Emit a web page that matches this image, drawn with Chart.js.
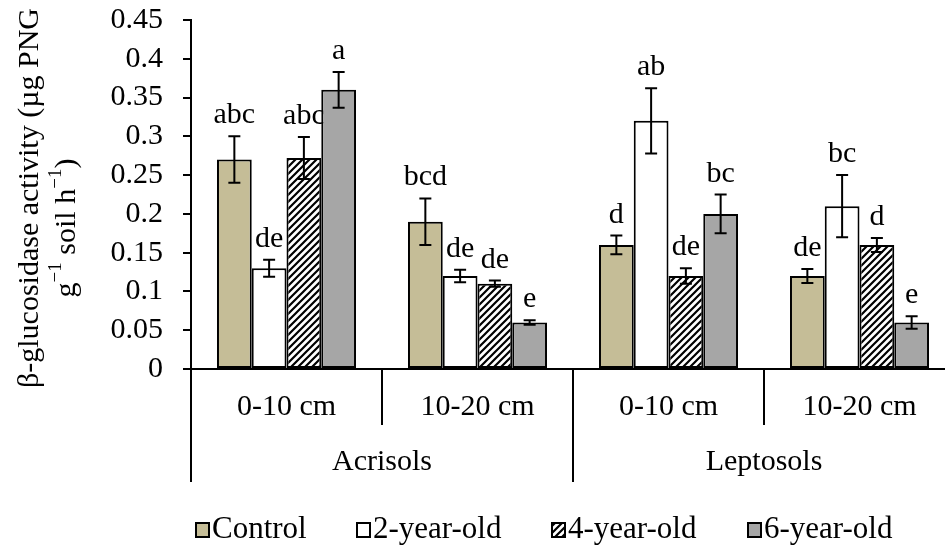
<!DOCTYPE html>
<html>
<head>
<meta charset="utf-8">
<script src="https://cdn.jsdelivr.net/npm/chart.js@4"></script>
<style>
  html, body { margin: 0; padding: 0; background: #fff; overflow: hidden; }
  #wrap { position: relative; width: 960px; height: 548px; }
</style>
</head>
<body>
<div id="wrap"><canvas id="chart"></canvas></div>
<script>
var depths = ['0-10 cm', '10-20 cm', '0-10 cm', '10-20 cm'];
var soils = ['Acrisols', 'Leptosols'];
var seriesNames = ['Control', '2-year-old', '4-year-old', '6-year-old'];

// mean activity per depth
var control = [0.27, 0.19, 0.16, 0.12];
var year2 = [0.13, 0.12, 0.32, 0.21];
var year4 = [0.272, 0.11, 0.12, 0.16];
var year6 = [0.36, 0.06, 0.20, 0.06];

// standard errors
var controlErr = [0.03, 0.03, 0.012, 0.009];
var year2Err = [0.011, 0.008, 0.042, 0.04];
var year4Err = [0.027, 0.004, 0.01, 0.009];
var year6Err = [0.023, 0.003, 0.025, 0.008];

// significance letters
var controlSig = ['abc', 'bcd', 'd', 'de'];
var year2Sig = ['de', 'de', 'ab', 'bc'];
var year4Sig = ['abc', 'de', 'de', 'd'];
var year6Sig = ['a', 'e', 'bc', 'e'];

var yMax = 0.45;
var yStep = 0.05;

var FONT = '"Liberation Serif", "Times New Roman", serif';

// diagonal hatch for the 4-year-old bars
function makeHatch() {
    var c = document.createElement('canvas');
    c.width = 7; c.height = 7;
    var g = c.getContext('2d');
    g.fillStyle = '#fff';
    g.fillRect(0, 0, 7, 7);
    g.strokeStyle = '#000';
    g.lineWidth = 2.2;
    g.beginPath();
    g.moveTo(-1, 8); g.lineTo(8, -1);
    g.moveTo(-4, 4); g.lineTo(4, -4);
    g.moveTo(3, 11); g.lineTo(11, 3);
    g.stroke();
    return document.getElementById('chart').getContext('2d').createPattern(c, 'repeat');
}
var hatch = makeHatch();

var fills = ['#c5bd97', '#ffffff', hatch, '#a6a6a6'];
var values = [control, year2, year4, year6];
var errs = [controlErr, year2Err, year4Err, year6Err];
var sigs = [controlSig, year2Sig, year4Sig, year6Sig];

var datasets = [];
for (var i = 0; i < values.length; i++) {
    datasets.push({
        label: seriesNames[i],
        data: values[i],
        backgroundColor: fills[i],
        borderColor: '#000',
        borderWidth: 2,
        borderSkipped: false,
        barPercentage: 1,
        categoryPercentage: 0.728
    });
}

// letters sit under the bars so later bars can cover them
var lettersPlugin = {
    id: 'letters',
    beforeDatasetsDraw: function(chart) {
        var ctx = chart.ctx, y = chart.scales.y;
        ctx.save();
        ctx.font = '30px ' + FONT;
        ctx.fillStyle = '#000';
        ctx.textAlign = 'center';
        ctx.textBaseline = 'alphabetic';
        chart.data.datasets.forEach(function(ds, i) {
            chart.getDatasetMeta(i).data.forEach(function(bar, j) {
                var top = y.getPixelForValue(values[i][j] + errs[i][j]);
                ctx.fillText(sigs[i][j], bar.x, top - 13);
            });
        });
        ctx.restore();
    }
};

var errorBars = {
    id: 'errorBars',
    afterDatasetsDraw: function(chart) {
        var ctx = chart.ctx, y = chart.scales.y;
        ctx.save();
        ctx.strokeStyle = '#000';
        ctx.lineWidth = 2;
        chart.data.datasets.forEach(function(ds, i) {
            chart.getDatasetMeta(i).data.forEach(function(bar, j) {
                var hi = y.getPixelForValue(values[i][j] + errs[i][j]);
                var lo = y.getPixelForValue(values[i][j] - errs[i][j]);
                ctx.beginPath();
                ctx.moveTo(bar.x, hi); ctx.lineTo(bar.x, lo);
                ctx.moveTo(bar.x - 6, hi); ctx.lineTo(bar.x + 6, hi);
                ctx.moveTo(bar.x - 6, lo); ctx.lineTo(bar.x + 6, lo);
                ctx.stroke();
            });
        });
        ctx.restore();
    }
};

function drawSupText(ctx, parts, cx, cy) {
    var total = 0;
    parts.forEach(function(p) {
        ctx.font = (p.sup ? '19px ' : '30px ') + FONT;
        p.w = ctx.measureText(p.t).width;
        total += p.w;
    });
    var x = cx - total / 2;
    parts.forEach(function(p) {
        ctx.font = (p.sup ? '19px ' : '30px ') + FONT;
        ctx.fillText(p.t, x, p.sup ? cy - 11 : cy);
        x += p.w;
    });
}

var decorations = {
    id: 'decorations',
    afterDraw: function(chart) {
        var ctx = chart.ctx, area = chart.chartArea, x = chart.scales.x;
        var catW = (area.right - area.left) / depths.length;
        var base = area.bottom;
        ctx.save();
        ctx.fillStyle = '#000';
        ctx.strokeStyle = '#000';
        ctx.lineWidth = 2;

        // category dividers below the axis
        ctx.beginPath();
        for (var k = 0; k <= depths.length; k++) {
            var bx = Math.round(area.left + k * catW);
            ctx.moveTo(bx, base);
            ctx.lineTo(bx, base + (k % 2 === 0 ? 113 : 56));
        }
        ctx.stroke();

        ctx.font = '30px ' + FONT;
        ctx.textAlign = 'center';
        ctx.textBaseline = 'middle';
        depths.forEach(function(d, i) {
            ctx.fillText(d, x.getPixelForValue(i), base + 38);
        });
        soils.forEach(function(s, i) {
            var l = area.left + i * 2 * catW;
            ctx.fillText(s, l + catW, base + 93);
        });

        // y axis title, two rotated lines
        ctx.save();
        ctx.translate(30, 198);
        ctx.rotate(-Math.PI / 2);
        ctx.fillText('\u03b2-glucosidase activity (\u00b5g PNG', 0, 0);
        ctx.restore();
        ctx.save();
        ctx.translate(67, 228);
        ctx.rotate(-Math.PI / 2);
        ctx.textAlign = 'left';
        drawSupText(ctx, [
            { t: 'g' }, { t: '\u22121', sup: true }, { t: ' soil h' },
            { t: '\u22121', sup: true }, { t: ')' }
        ], 0, 0);
        ctx.restore();

        // legend
        var offs = [5, 166, 361, 557];
        var ly = base + 161;
        ctx.textAlign = 'left';
        seriesNames.forEach(function(name, i) {
            var lx = area.left + offs[i];
            ctx.fillStyle = fills[i];
            ctx.fillRect(lx, ly - 7, 13, 14);
            ctx.strokeRect(lx, ly - 7, 13, 14);
            ctx.fillStyle = '#000';
            ctx.font = '31px ' + FONT;
            ctx.fillText(name, lx + 16, ly);
        });
        ctx.restore();
    }
};

var config = {
    type: 'bar',
    data: { labels: depths, datasets: datasets },
    options: {
        responsive: true,
        maintainAspectRatio: false,
        animation: false,
        layout: { padding: { top: 20, right: 5, left: 0, bottom: 0 } },
        plugins: {
            legend: { display: false },
            tooltip: { enabled: false }
        },
        scales: {
            x: {
                grid: { display: false },
                border: { display: true, color: '#000', width: 2 },
                ticks: { display: false },
                afterFit: function(scale) { scale.height = 179; }
            },
            y: {
                min: 0,
                max: yMax,
                ticks: {
                    stepSize: yStep,
                    autoSkip: false,
                    color: '#000',
                    padding: 20,
                    font: { family: FONT, size: 30 },
                    callback: function(v) { return String(+v.toFixed(2)); }
                },
                grid: { drawOnChartArea: false, drawTicks: true, tickLength: 8, color: '#000', lineWidth: 2 },
                border: { display: true, color: '#000', width: 2 },
                afterFit: function(scale) {
                    scale.width = 191;
                    scale.paddingTop = 0;
                    scale.paddingBottom = 0;
                }
            }
        }
    },
    plugins: [lettersPlugin, errorBars, decorations]
};

var ctx = document.getElementById('chart');
window.myChart = new Chart(ctx, config);
</script>
</body>
</html>
